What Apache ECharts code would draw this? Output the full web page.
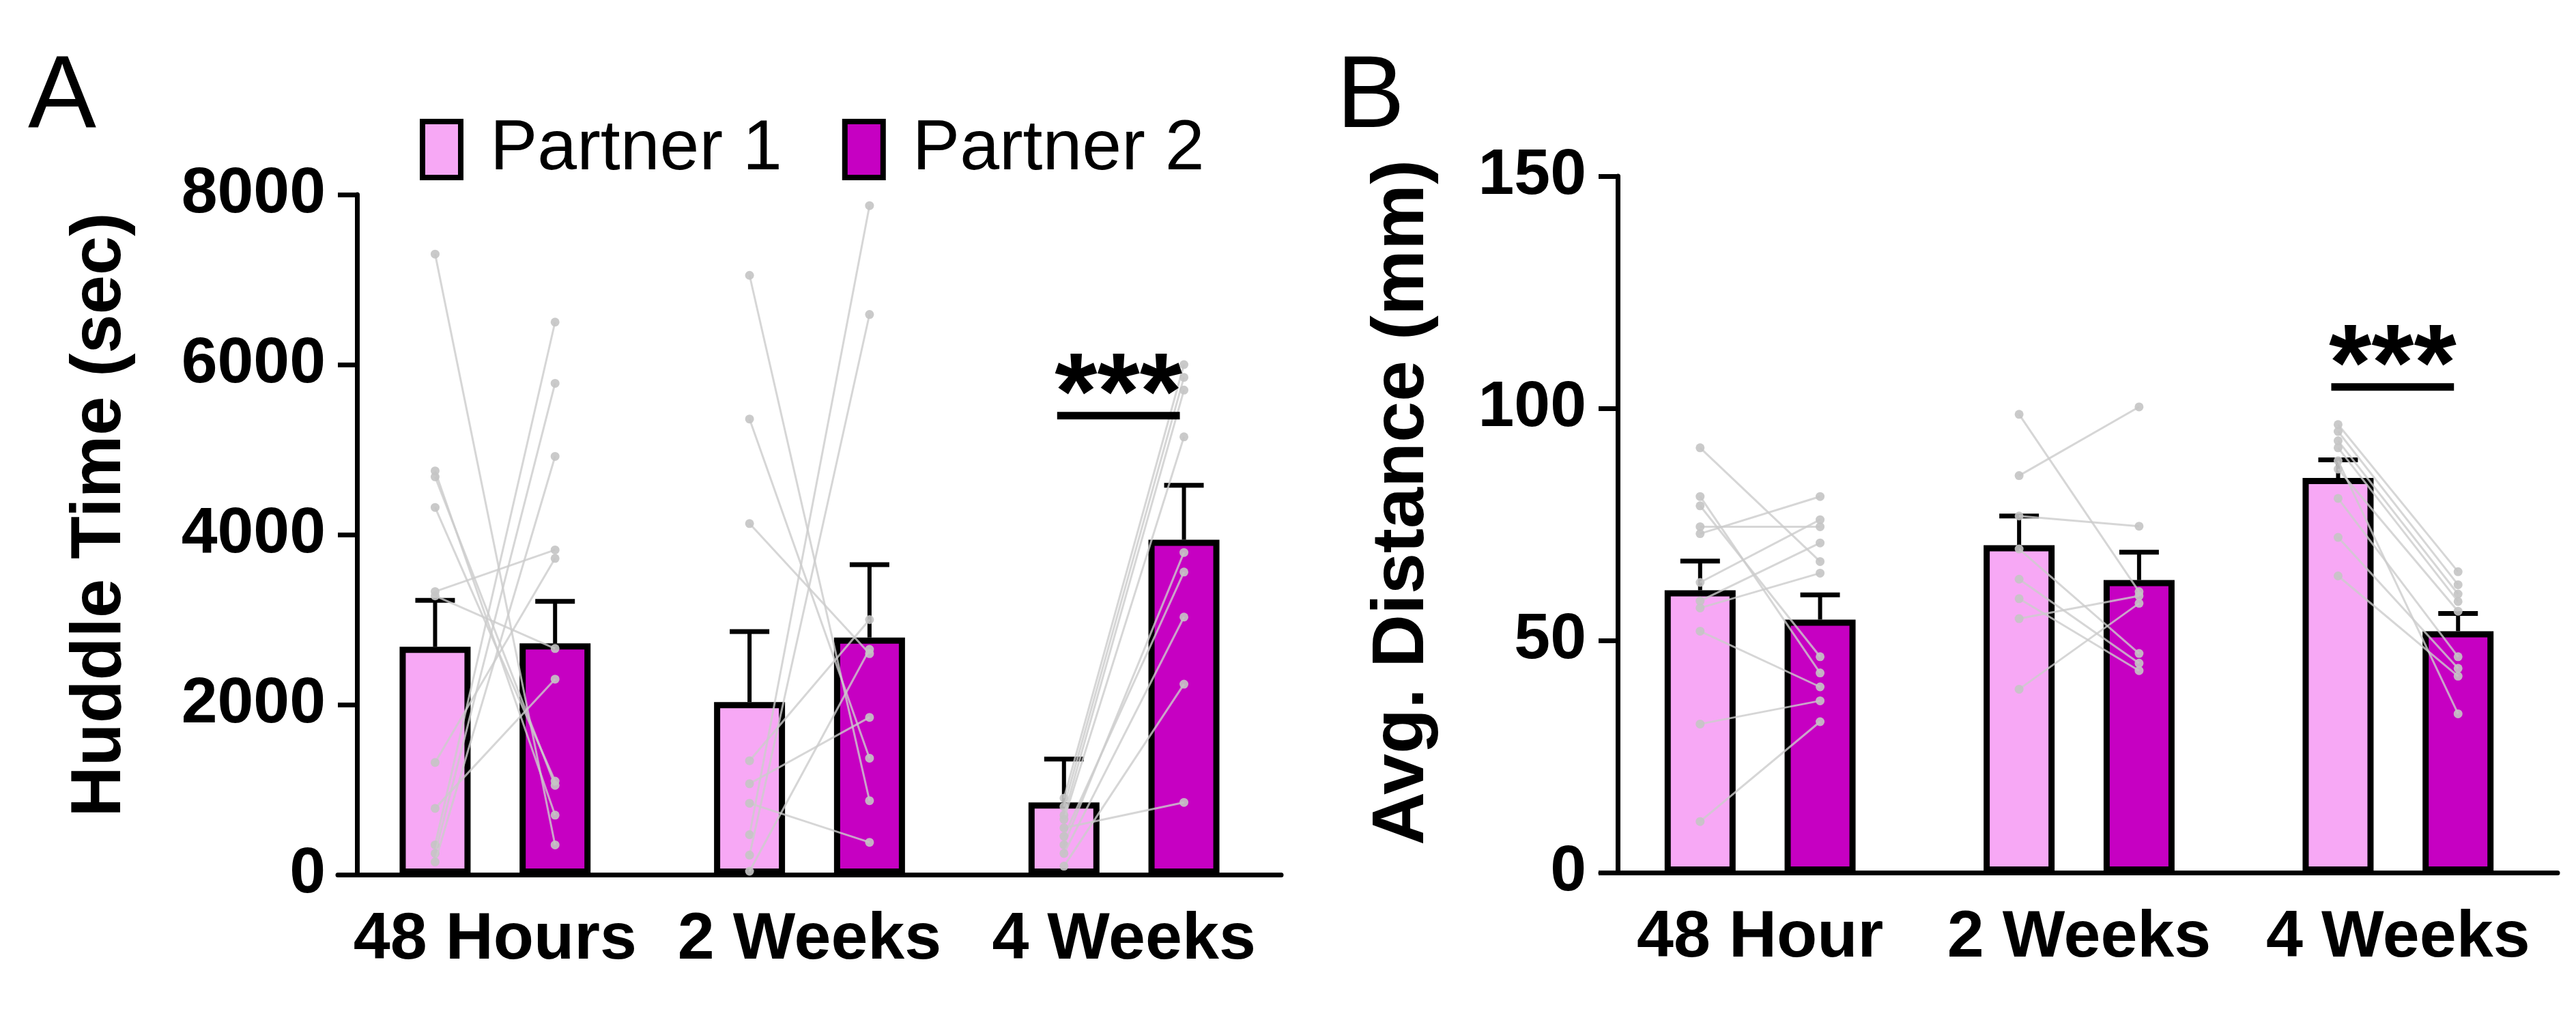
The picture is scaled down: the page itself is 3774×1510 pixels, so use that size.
<!DOCTYPE html>
<html>
<head>
<meta charset="utf-8">
<script src="https://cdn.jsdelivr.net/npm/echarts@6/dist/echarts.min.js"></script>
<style>
  html, body { margin: 0; padding: 0; background: #fff; }
  #chart { width: 3774px; height: 1510px; }
</style>
</head>
<body>
<div id="chart"></div>
<script>
// ---------------- DATA ----------------
const seriesNames = ['Partner 1', 'Partner 2'];
const categoriesA = ['48 Hours', '2 Weeks', '4 Weeks'];
const categoriesB = ['48 Hour', '2 Weeks', '4 Weeks'];
const ticksA = [0, 2000, 4000, 6000, 8000];
const ticksB = [0, 50, 100, 150];

// Panel A: Huddle Time (sec) — bar means and SEM
const huddleMeanP1 = [2680, 2030, 850];
const huddleMeanP2 = [2720, 2790, 3940];
const huddleSemP1 = [546, 829, 509];
const huddleSemP2 = [495, 856, 641];

// Panel A: individual pairs (Partner 1 -> Partner 2)
const huddle48hP1 = [7300, 4750, 4680, 4320, 3330, 3280, 1320, 780, 350, 250, 150];
const huddle48hP2 = [350, 700, 1050, 1100, 3820, 2660, 3720, 2300, 6500, 5780, 4920];
const huddle2wP1 = [7050, 5360, 4130, 1340, 1070, 840, 470, 230, 40];
const huddle2wP2 = [870, 1370, 2600, 3000, 1850, 380, 7870, 6590, 2650];
const huddle4wP1 = [900, 800, 700, 650, 350, 450, 250, 100, 550];
const huddle4wP2 = [6000, 5850, 5700, 5150, 3790, 3560, 3030, 2240, 850];

// Panel B: Avg. Distance (mm) — bar means and SEM
const distMeanP1 = [60.8, 70.5, 85.0];
const distMeanP2 = [54.5, 63.0, 52.0];
const distSemP1 = [6.3, 6.3, 3.9];
const distSemP2 = [5.3, 6.0, 3.8];

// Panel B: individual pairs (Partner 1 -> Partner 2)
const dist48hP1 = [91.5, 81, 79, 74.5, 73, 62.5, 58.5, 57, 52, 32, 11];
const dist48hP2 = [67, 43, 46.5, 74.5, 81, 76, 71, 64.5, 40, 37, 32.5];
const dist2wP1 = [98.7, 85.5, 76.8, 69.7, 63.2, 59, 54.7, 39.5];
const dist2wP2 = [60.5, 100.3, 74.6, 47.2, 45.1, 43.5, 59.6, 58];
const dist4wP1 = [96.5, 95, 93, 91.5, 88.7, 86.9, 80.6, 72.2, 63.9];
const dist4wP2 = [64.8, 62, 60, 58.4, 34.2, 56.3, 46.5, 44, 42.3];

// Significance annotations (category index, bar level, label)
const sigCatA = [2];
const sigLevelA = [5400];
const sigCatB = [2];
const sigLevelB = [104.6];
const sigLabel = ['***'];

// ---------------- STYLE ----------------
const FONT = '"Liberation Sans", Arial, Helvetica, sans-serif';
const COLOR_P1 = '#F7A8F5';
const COLOR_P2 = '#C600C2';
const BAR_W = 104;
const BAR_GAP = 0.69;
const PAIR_OFFSET = BAR_W * (1 + BAR_GAP) / 2;
const AXIS_W = 7;

function buildPairs(groups) {
  const out = [];
  groups.forEach((g, ci) => {
    g[0].forEach((v, i) => out.push([ci, v, g[1][i]]));
  });
  return out;
}
function buildErr(means, sems) {
  return means.map((m, i) => [i, m, sems[i]]);
}
function buildSig(cats, levels) {
  return cats.map((c, i) => [c, levels[i]]);
}

const pairsA = buildPairs([[huddle48hP1, huddle48hP2], [huddle2wP1, huddle2wP2], [huddle4wP1, huddle4wP2]]);
const pairsB = buildPairs([[dist48hP1, dist48hP2], [dist2wP1, dist2wP2], [dist4wP1, dist4wP2]]);

function renderPairs(params, api) {
  const cat = api.value(0);
  const a = api.coord([cat, api.value(1)]);
  const b = api.coord([cat, api.value(2)]);
  const x1 = a[0] - PAIR_OFFSET, x2 = b[0] + PAIR_OFFSET;
  return {
    type: 'group',
    children: [
      { type: 'line', shape: { x1: x1, y1: a[1], x2: x2, y2: b[1] },
        style: { stroke: '#cccccc', lineWidth: 3, opacity: 0.8 } },
      { type: 'circle', shape: { cx: x1, cy: a[1], r: 6.5 }, style: { fill: '#c4c4c4', opacity: 0.9 } },
      { type: 'circle', shape: { cx: x2, cy: b[1], r: 6.5 }, style: { fill: '#c4c4c4', opacity: 0.9 } }
    ]
  };
}
function makeErrRenderer(sign) {
  return function (params, api) {
    const cat = api.value(0);
    const m = api.value(1), s = api.value(2);
    const lo = api.coord([cat, m]);
    const hi = api.coord([cat, m + s]);
    const x = lo[0] + sign * PAIR_OFFSET;
    return {
      type: 'group',
      children: [
        { type: 'line', shape: { x1: x, y1: lo[1], x2: x, y2: hi[1] }, style: { stroke: '#000', lineWidth: 6 } },
        { type: 'line', shape: { x1: x - 29, y1: hi[1], x2: x + 29, y2: hi[1] }, style: { stroke: '#000', lineWidth: 7 } }
      ]
    };
  };
}
function renderSig(params, api) {
  const cat = api.value(0);
  const p = api.coord([cat, api.value(1)]);
  const x1 = p[0] - PAIR_OFFSET - 10, x2 = p[0] + PAIR_OFFSET - 6;
  return {
    type: 'group',
    children: [
      { type: 'line', shape: { x1: x1, y1: p[1], x2: x2, y2: p[1] }, style: { stroke: '#000', lineWidth: 11 } },
      { type: 'text', style: { text: sigLabel[0], x: (x1 + x2) / 2, y: p[1] - 25,
          font: 'bold 160px ' + FONT, fill: '#000', textAlign: 'center', textVerticalAlign: 'middle' } }
    ]
  };
}

function xAxisCfg(gi, cats) {
  return {
    gridIndex: gi, type: 'category', data: cats, boundaryGap: true,
    axisLine: { onZero: false, lineStyle: { color: '#000', width: AXIS_W } },
    axisTick: { alignWithLabel: true, length: 30, lineStyle: { color: '#000', width: AXIS_W } },
    axisLabel: { interval: 0, hideOverlap: false, color: '#000', fontSize: 97, fontWeight: 'bold', fontFamily: FONT, margin: 48 },
    splitLine: { show: false }
  };
}
function yAxisCfg(gi, ticks, offset, name, nameGap, nameSize, pad) {
  return {
    gridIndex: gi, type: 'value', min: ticks[0], max: ticks[ticks.length - 1],
    interval: ticks[1] - ticks[0], offset: offset,
    axisLine: { show: true, lineStyle: { color: '#000', width: AXIS_W } },
    axisTick: { show: true, length: 28, lineStyle: { color: '#000', width: AXIS_W } },
    axisLabel: { color: '#000', fontSize: 95, fontWeight: 'bold', fontFamily: FONT, margin: 46,
                 formatter: function (v) { return String(v); } },
    splitLine: { show: false },
    name: name, nameLocation: 'middle', nameGap: nameGap,
    nameTextStyle: { color: '#000', fontSize: nameSize, fontWeight: 'bold', fontFamily: FONT, padding: [0, 0, 0, pad] }
  };
}
function barCfg(name, color, xi, data) {
  return {
    name: name, type: 'bar', xAxisIndex: xi, yAxisIndex: xi, data: data,
    barWidth: BAR_W, barGap: (BAR_GAP * 100) + '%', z: 2,
    itemStyle: { color: color, borderColor: '#000', borderWidth: 9 }
  };
}
function customCfg(xi, data, render, z, dims) {
  return {
    type: 'custom', xAxisIndex: xi, yAxisIndex: xi, data: data, renderItem: render, z: z,
    dimensions: dims, encode: { x: 0, y: dims.slice(1).map((d, i) => i + 1) }, silent: true
  };
}

const option = {
  animation: false,
  backgroundColor: '#ffffff',
  textStyle: { fontFamily: FONT },
  legend: {
    data: seriesNames, left: 610, top: 162, icon: 'rect',
    itemWidth: 56, itemHeight: 82, itemGap: 88, selectedMode: false,
    itemStyle: { borderColor: '#000', borderWidth: 8 },
    textStyle: { color: '#000', fontSize: 104, fontFamily: FONT, padding: [0, 0, 0, 38] }
  },
  grid: [
    { left: 495, top: 285, width: 1382, height: 996 },
    { left: 2345, top: 258, width: 1402, height: 1020 }
  ],
  xAxis: [xAxisCfg(0, categoriesA), xAxisCfg(1, categoriesB)],
  yAxis: [
    yAxisCfg(0, ticksA, -28, 'Huddle Time (sec)', 324, 103, 58),
    yAxisCfg(1, ticksB, -25, 'Avg. Distance (mm)', 261, 108, 64)
  ],
  graphic: [
    { type: 'text', left: 41, top: 70, style: { text: 'A', font: '150px ' + FONT, fill: '#000' } },
    { type: 'text', left: 1958, top: 70, style: { text: 'B', font: '150px ' + FONT, fill: '#000' } }
  ],
  series: [
    barCfg('Partner 1', COLOR_P1, 0, huddleMeanP1),
    barCfg('Partner 2', COLOR_P2, 0, huddleMeanP2),
    barCfg('Partner 1', COLOR_P1, 1, distMeanP1),
    barCfg('Partner 2', COLOR_P2, 1, distMeanP2),
    customCfg(0, buildErr(huddleMeanP1, huddleSemP1), makeErrRenderer(-1), 3, ['cat', 'mean', 'sem']),
    customCfg(0, buildErr(huddleMeanP2, huddleSemP2), makeErrRenderer(1), 3, ['cat', 'mean', 'sem']),
    customCfg(1, buildErr(distMeanP1, distSemP1), makeErrRenderer(-1), 3, ['cat', 'mean', 'sem']),
    customCfg(1, buildErr(distMeanP2, distSemP2), makeErrRenderer(1), 3, ['cat', 'mean', 'sem']),
    customCfg(0, pairsA, renderPairs, 4, ['cat', 'p1', 'p2']),
    customCfg(1, pairsB, renderPairs, 4, ['cat', 'p1', 'p2']),
    customCfg(0, buildSig(sigCatA, sigLevelA), renderSig, 5, ['cat', 'level']),
    customCfg(1, buildSig(sigCatB, sigLevelB), renderSig, 5, ['cat', 'level'])
  ]
};

const chart = echarts.init(document.getElementById('chart'), null, { renderer: 'canvas' });
chart.setOption(option);
</script>
</body>
</html>
